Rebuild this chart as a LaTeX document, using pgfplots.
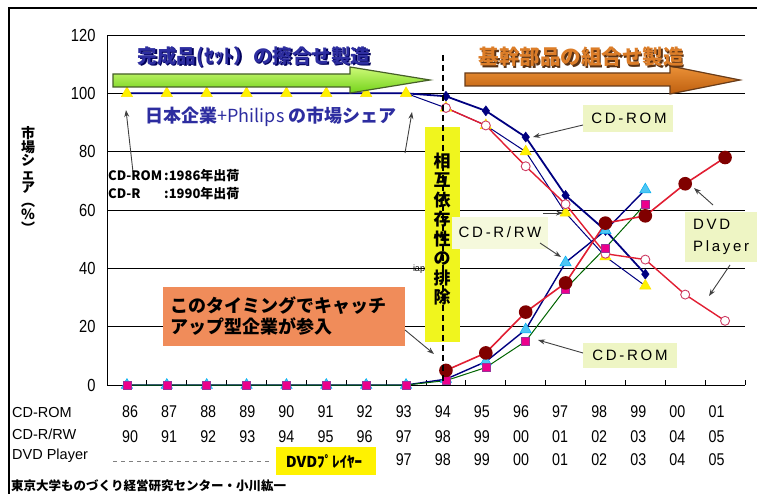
\documentclass[border=0pt]{standalone}
\usepackage{fontspec}
\usepackage{pgfplots}
\pgfplotsset{compat=1.18}
\usetikzlibrary{arrows.meta}
\setmainfont{Liberation Sans}
\newfontfamily\jp{Noto Sans CJK JP}
\newfontfamily\narrow[FakeStretch=0.84]{Liberation Sans}
\newfontfamily\spaced[LetterSpace=18]{Liberation Sans}

\definecolor{navy}{RGB}{0,0,128}
\definecolor{maroonc}{RGB}{128,0,0}
\definecolor{dvdred}{RGB}{225,30,50}
\definecolor{pinkc}{RGB}{205,60,100}
\definecolor{darkgreen}{RGB}{0,100,0}
\definecolor{callout}{RGB}{238,245,196}
\definecolor{boxyellow}{RGB}{240,245,30}
\definecolor{salmon}{RGB}{240,140,90}
\definecolor{titleblue}{RGB}{45,45,160}
\definecolor{titleorange}{RGB}{220,125,40}

\begin{document}
\begin{tikzpicture}
\begin{axis}[
  at={(107pt,-385pt)}, anchor=south west,
  scale only axis, width=638pt, height=350pt,
  xmin=-0.5, xmax=15.5, ymin=0, ymax=120,
  axis x line*=bottom, axis y line*=left,
  axis line style={black, line width=1pt},
  xtick={-0.5,0.5,...,15.5}, xticklabels={},
  ytick={0,20,...,120},
  tick align=inside, major tick length=5pt,
  ytick style={draw=none}, xtick style={black, line width=0.8pt},
  ymajorgrids, major grid style={black, line width=0.8pt},
  yticklabel style={font=\narrow\fontsize{17.5}{18}\selectfont, xshift=-8pt},
  /pgf/number format/assume math mode=true,
  clip=false,
]
% Japanese makers + Philips: CD-ROM (markers from 1994 on)
\addplot[navy, line width=1.8pt, mark=diamond*, mark size=5pt, mark indices={9,10,...,14},
  mark options={fill=navy, draw=navy, line width=0.5pt}] coordinates {
  (0,100)(1,100)(2,100)(3,100)(4,100)(5,100)(6,100)(7,100)
  (8,99)(9,94)(10,85)(11,65)(12,53)(13,38)};
% Japanese makers + Philips: CD-R/RW
\addplot[navy, line width=1pt, mark=triangle*, mark size=6.5pt,
  mark options={fill=yellow, draw=yellow!85!orange, line width=0.5pt}] coordinates {
  (0,100)(1,100)(2,100)(3,100)(4,100)(5,100)(6,100)(7,100)
  (8,95)(9,89)(10,80)(11,59)(12,44)(13,34)};
% Japanese makers: DVD player
\addplot[dvdred, line width=1.4pt, mark=*, mark size=4.5pt,
  mark options={fill=white, draw=pinkc, line width=0.9pt}] coordinates {
  (8,95)(9,89)(10,75)(11,62)(12,45)(13,43)(14,31)(15,22)};
% Catch-up makers: CD-R/RW
\addplot[navy, line width=1.4pt, mark=triangle*, mark size=6.5pt,
  mark options={fill=cyan!70, draw=cyan, line width=0.5pt}] coordinates {
  (0,0)(1,0)(2,0)(3,0)(4,0)(5,0)(6,0)(7,0)
  (8,2)(9,8)(10,19)(11,42)(12,53)(13,67)};
% Catch-up makers: CD-ROM
\addplot[darkgreen, line width=1pt, mark=square*, mark size=4pt,
  mark options={fill=magenta, draw=violet!80, line width=0.5pt}] coordinates {
  (0,0)(1,0)(2,0)(3,0)(4,0)(5,0)(6,0)(7,0)
  (8,1.5)(9,6)(10,15)(11,33)(12,47)(13,62)};
% Catch-up makers: DVD player
\addplot[dvdred, line width=1.6pt, mark=*, mark size=6pt,
  mark options={fill=maroonc, draw=maroonc}] coordinates {
  (8,5)(9,11)(10,25)(11,35)(12,55.5)(13,58)(14,69)(15,78)};
\end{axis}

\begin{scope}[x=1pt, y=-1pt]
\useasboundingbox (0,0) rectangle (757,494);
% frame
\draw[line width=2pt] (9,494) -- (9,8) -- (757,8);

% phase arrows
\path[top color={rgb,255:red,205;green,250;blue,120}, bottom color={rgb,255:red,115;green,210;blue,25}]
  (113,74) -- (350,74) -- (350,67) -- (430,80) -- (350,93) -- (350,87) -- (113,87) -- cycle;
\draw[line width=1.2pt, draw={rgb,255:red,70;green,95;blue,40}]
  (113,74) -- (350,74) -- (350,67) -- (430,80) -- (350,93) -- (350,87) -- (113,87) -- cycle;
\path[top color={rgb,255:red,235;green,145;blue,55}, bottom color={rgb,255:red,190;green,95;blue,15}]
  (465,73) -- (670,73) -- (670,66) -- (740,80) -- (670,94) -- (670,86) -- (465,86) -- cycle;
\draw[line width=1.2pt, draw={rgb,255:red,105;green,60;blue,25}]
  (465,73) -- (670,73) -- (670,66) -- (740,80) -- (670,94) -- (670,86) -- (465,86) -- cycle;

% phase titles
\node[font=\jp\bfseries\fontsize{19.5}{20}\selectfont, text=navy!70!black] at (255.5,58.5) {完成品(ｾｯﾄ）の擦合せ製造};
\node[font=\jp\bfseries\fontsize{19.5}{20}\selectfont, text=titleblue] at (254,57) {完成品(ｾｯﾄ）の擦合せ製造};
\node[font=\jp\bfseries\fontsize{20.5}{21}\selectfont, text={rgb,255:red,90;green,50;blue,20}] at (582.5,58.5) {基幹部品の組合せ製造};
\node[font=\jp\bfseries\fontsize{20.5}{21}\selectfont, text=titleorange] at (581,57) {基幹部品の組合せ製造};

% market share caption
\node[font=\jp\fontsize{18}{18}\selectfont, text=titleblue] at (271,117)
  {{\bfseries 日本企業}+Philips {\bfseries の市場シェア}};
\draw[-{Stealth[length=7pt,width=5pt]}, line width=0.9pt, black!75] (133,172) -- (126,110);
\draw[-{Stealth[length=7pt,width=5pt]}, line width=0.9pt, black!75] (405,153) -- (412,112);

% shipment start notes
\begin{scope}[every node/.style={font=\jp\bfseries\fontsize{13}{13}\selectfont, anchor=west, inner sep=0pt}]
\node at (108,176) {CD-ROM};
\node at (164,176) {:1986年出荷};
\node at (108,194) {CD-R};
\node at (164,194) {:1990年出荷};
\end{scope}

% y label
\node[font=\jp\bfseries\fontsize{14}{13.5}\selectfont, align=center, inner sep=0pt] at (28,180)
  {市\\場\\シ\\ェ\\ア\\︵\\\%\\︶};

% interdependence marker
\fill[boxyellow] (425,127) rectangle (460,342);
\draw[line width=1.4pt, dash pattern=on 6pt off 4pt] (443,55) -- (443,385);
\foreach \c [count=\i from 0] in {相,互,依,存,性,の,排,除}
  \node[font=\jp\bfseries\fontsize{17}{17}\selectfont, inner sep=0pt] at (442,{161+19.5*\i}) {\c};
\node[font=\fontsize{9}{9}\selectfont, inner sep=0pt] at (419,269) {iap};

% catch-up note
\fill[salmon] (163,287) rectangle (405,346);
\node[font=\jp\bfseries\fontsize{18}{18}\selectfont, anchor=west, inner sep=0pt] at (170,306) {このタイミングでキャッチ};
\node[font=\jp\bfseries\fontsize{18}{18}\selectfont, anchor=west, inner sep=0pt] at (170,327) {アップ型企業が参入};
\draw[-{Stealth[length=7pt,width=5pt]}, line width=0.9pt, black!75] (405,330) -- (434,354);

% callouts
\begin{scope}[every node/.style={font=\spaced\fontsize{15}{15}\selectfont, inner sep=0pt}]
\fill[callout] (583,105) rectangle (673,132);
\node at (629,118) {CD-ROM};
\draw[-{Stealth[length=7pt,width=5pt]}, line width=0.9pt, black!75] (583,125) -- (533,137);

\fill[callout] (583,343) rectangle (677,368);
\node at (630,355) {CD-ROM};
\draw[-{Stealth[length=7pt,width=5pt]}, line width=0.9pt, black!75] (583,353) -- (538,340);

\fill[callout!60!white] (452,217) rectangle (548,249);
\node at (500,232) {CD-R/RW};
\draw[-{Stealth[length=7pt,width=5pt]}, line width=0.9pt, black!75] (543,213) -- (563,213);
\draw[-{Stealth[length=7pt,width=5pt]}, line width=0.9pt, black!75] (540,243) -- (561,257);

\fill[callout] (685,212) rectangle (757,262);
\node[anchor=west] at (693,224) {DVD};
\node[anchor=west] at (693,248) {Player};
\draw[-{Stealth[length=7pt,width=5pt]}, line width=0.9pt, black!75] (713,205) -- (694,188);
\draw[-{Stealth[length=7pt,width=5pt]}, line width=0.9pt, black!75] (730,265) -- (709,296);
\end{scope}

% year table
\begin{scope}[every node/.style={font=\fontsize{14.5}{15}\selectfont, anchor=west, inner sep=0pt}]
\node at (12,413) {CD-ROM};
\node at (12,434) {CD-R/RW};
\node at (12,456) {DVD Player};
\end{scope}
\begin{scope}[every node/.style={font=\narrow\fontsize{17}{17}\selectfont, inner sep=0pt}]
\foreach \y [count=\i from 0] in {86,87,88,89,90,91,92,93,94,95,96,97,98,99,00,01}
  \node at ({130+39.1*\i},412) {\y};
\foreach \y [count=\i from 0] in {90,91,92,93,94,95,96,97,98,99,00,01,02,03,04,05}
  \node at ({130+39.1*\i},437) {\y};
\foreach \y [count=\i from 7] in {97,98,99,00,01,02,03,04,05}
  \node at ({130+39.1*\i},460) {\y};
\end{scope}
\draw[gray, line width=1pt, dash pattern=on 4pt off 4pt] (113,461) -- (272,461);
\fill[yellow] (276,447) rectangle (376,475);
\node[font=\jp\bfseries\fontsize{15}{15}\selectfont, inner sep=0pt] at (324,462) {DVDﾌﾟﾚｲﾔｰ};

% source
\node[font=\jp\bfseries\fontsize{12.5}{13}\selectfont, anchor=west, inner sep=0pt] at (11,486)
  {東京大学ものづくり経営研究センター・小川紘一};
\end{scope}
\end{tikzpicture}
\end{document}
